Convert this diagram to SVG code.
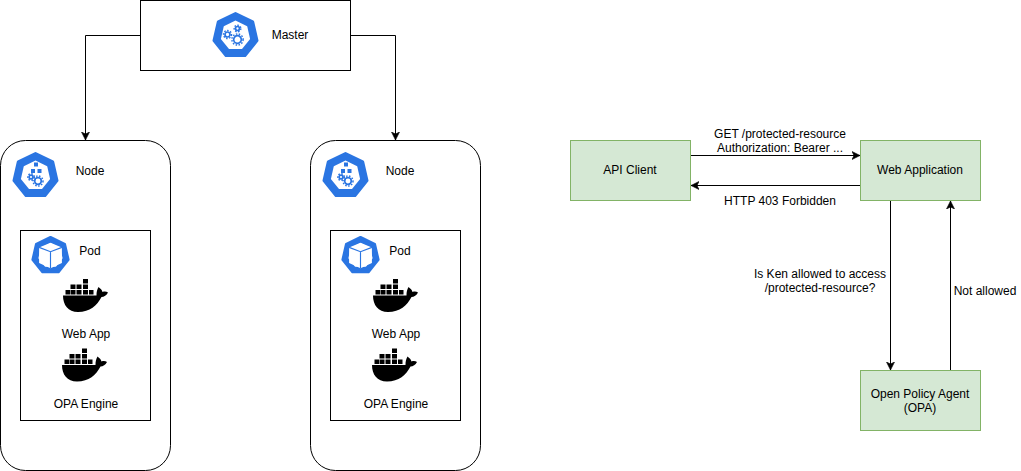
<svg xmlns="http://www.w3.org/2000/svg" width="1021" height="471" viewBox="0 0 1021 471">
<style>
text{font-family:"Liberation Sans",Arial,sans-serif;font-size:12px;fill:#000;text-anchor:middle}
.box{fill:#fff;stroke:#000;stroke-width:1}
.green{fill:#d5e8d4;stroke:#82b366;stroke-width:1}
.edge{fill:none;stroke:#000;stroke-width:1;marker-end:url(#arrow)}
.hep{fill:#2a75e2;stroke:#2a75e2;stroke-width:3;stroke-linejoin:round}
.in{fill:#fff}
.blue{fill:#2a75e2}
.gear{fill:#fff;stroke:#2a75e2;stroke-width:1.7}
.teeth{fill:none;stroke:#2a75e2;stroke-width:1.5;stroke-dasharray:1.5 1.5}
</style>
<defs>
<marker id="arrow" viewBox="0 0 9 9" refX="8" refY="4.500" markerWidth="9" markerHeight="9" markerUnits="userSpaceOnUse" orient="auto"><path d="M0 0.500L8 4.500L0 8.500L2 4.500Z" fill="#000" stroke="#000" stroke-width="0.6"/></marker>
<g id="hepta">
<path class="hep" d="M0-22L17.200-13.700L21.500 5L9.500 20H-9.500L-21.500 5L-17.200-13.700Z"/>
<path class="in" d="M0-15L11.700-9.300L14.600 3.400L6.500 13.500H-6.500L-14.600 3.400L-11.700-9.300Z"/>
</g>
<g id="gears">
<circle class="teeth" cx="2" cy="-7" r="3.300"/><circle class="gear" cx="2" cy="-7" r="2"/>
<circle class="teeth" cx="-8" cy="-1" r="4"/><circle class="gear" cx="-8" cy="-1" r="2.500"/>
<circle class="teeth" cx="2" cy="4" r="5.600"/><circle class="gear" cx="2" cy="4" r="3.800"/>
</g>
<g id="nodeicon">
<path class="blue" d="M-1.500-13h4v4h-4z M-4.500-6.500h4v4h-4z M2-6.500h4v4h-4z"/>
<circle class="teeth" cx="-4.500" cy="1.500" r="3.200"/><circle class="gear" cx="-4.500" cy="1.500" r="1.900"/>
<circle class="teeth" cx="2.500" cy="5.500" r="5"/><circle class="gear" cx="2.500" cy="5.500" r="3.300"/>
</g>
<g id="podicon">
<path fill="#fff" d="M0-13L12-8V8.500L0 14L-12 8.500V-8Z"/>
<path d="M-12-8L0-3.500L12-8M0-3.500V14" fill="none" stroke="#2a75e2" stroke-width="1.200"/>
</g>
<g id="whale" fill="#000">
<path d="M0 0h5v4.600h-5z M-12.500 5.500h5v4.600h-5z M-6.500 5.500h5v4.600h-5z M0 5.500h5v4.600h-5z M-17.500 11h4.500v4.600h-4.500z M-12.500 11h5v4.600h-5z M-6.500 11h5v4.600h-5z M0 11h5v4.600h-5z M6 11h4.500v4.600h-4.500z"/>
<path d="M-20 16.500H13.500C13.500 13 14 10.500 15.500 8C17.500 9.500 19 11 19.500 13C21.500 12.300 23.500 12.500 25 13.500C23.500 16.500 21 17.800 18.500 18C14 26.500 7 33 -5 33C-15 33 -20 26 -20 16.500Z"/>
</g>
<g id="pod-content">
<rect class="box" x="20.500" y="230.500" width="130" height="190"/>
<use href="#hepta" transform="translate(50.500,255.500) scale(.83)"/>
<use href="#podicon" transform="translate(50.500,255) scale(.95)"/>
<text x="90" y="255">Pod</text>
<use href="#whale" transform="translate(83,279)"/>
<text x="86" y="338">Web App</text>
<use href="#whale" transform="translate(82,348.500)"/>
<text x="86" y="408">OPA Engine</text>
</g>
</defs>
<g id="connectors">
<path class="edge" d="M140.500 35.500H85.500V140"/>
<path class="edge" d="M350.500 35.500H395.500V140"/>
<path class="edge" d="M690.500 155.500H860"/>
<path class="edge" d="M860.500 185.500H691"/>
<path class="edge" d="M890.500 200.500V370"/>
<path class="edge" d="M950.500 370.500V201"/>
</g>
<g id="master">
<rect class="box" x="140.500" y="0.500" width="210" height="70"/>
<use href="#hepta" transform="translate(235.500,35.500)"/>
<use href="#gears" transform="translate(235.500,35.500)"/>
<text x="290" y="39">Master</text>
</g>
<g id="node-1">
<rect class="box" x="0.500" y="140.500" width="170" height="330" rx="25" ry="25"/>
<use href="#hepta" transform="translate(35.500,175.500)"/>
<use href="#nodeicon" transform="translate(35.500,175.500)"/>
<text x="90" y="175">Node</text>
<use href="#pod-content"/>
</g>
<g id="node-2">
<rect class="box" x="310.500" y="140.500" width="170" height="330" rx="25" ry="25"/>
<use href="#hepta" transform="translate(345.500,175.500)"/>
<use href="#nodeicon" transform="translate(345.500,175.500)"/>
<text x="400" y="175">Node</text>
<use href="#pod-content" x="310"/>
</g>
<g id="api-client">
<rect class="green" x="570.500" y="140.500" width="120" height="60"/>
<text x="630" y="174">API Client</text>
</g>
<g id="web-application">
<rect class="green" x="860.500" y="140.500" width="120" height="60"/>
<text x="920" y="174">Web Application</text>
</g>
<g id="opa">
<rect class="green" x="860.500" y="370.500" width="120" height="60"/>
<text x="920" y="398">Open Policy Agent</text>
<text x="920" y="412">(OPA)</text>
</g>
<g id="labels">
<text x="780" y="138">GET /protected-resource</text>
<text x="780" y="152">Authorization: Bearer ...</text>
<text x="780" y="205">HTTP 403 Forbidden</text>
<text x="820" y="278">Is Ken allowed to access</text>
<text x="820" y="292">/protected-resource?</text>
<text x="985" y="295">Not allowed</text>
</g>
</svg>
